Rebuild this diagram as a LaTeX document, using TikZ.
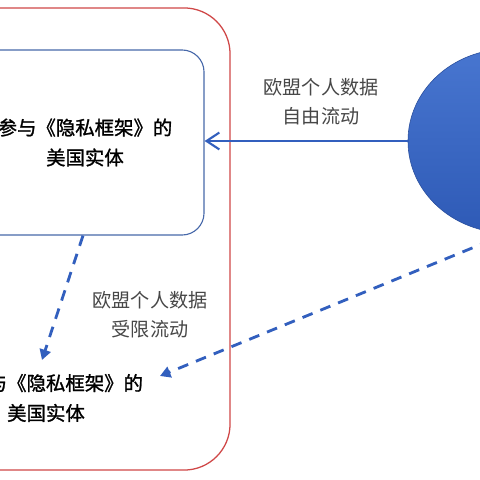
\documentclass[tikz,border=0pt]{standalone}
\usepackage{fontspec}
\setmainfont{Noto Sans CJK SC}
\newfontfamily\boxfont{Noto Sans CJK SC}[FakeBold=1.2]
\usepackage{tikz}
\usetikzlibrary{shapes,shapes.geometric,arrows,arrows.meta}
\usetikzlibrary{calc}
\definecolor{boxblue}{RGB}{72,105,170}
\definecolor{framered}{RGB}{208,72,72}
\definecolor{flowblue}{RGB}{50,95,190}
\definecolor{eutop}{RGB}{72,118,208}
\definecolor{eubot}{RGB}{46,90,182}
\tikzset{
    usbox/.style={draw=boxblue, line width=0.8pt, rounded corners=0.55cm, minimum width=5.95cm, minimum height=4.625cm, align=center, font=\boxfont\fontsize{13.8}{21.3}\selectfont},
    usframe/.style={draw=framered, line width=0.9pt, rounded corners=1.15cm, minimum width=9.5cm, minimum height=11.55cm},
    ustext/.style={align=center, font=\boxfont\fontsize{13.8}{21.3}\selectfont},
    flowlabel/.style={align=center, text=black!72, font=\fontsize{13.6}{20.6}\selectfont},
    solidflow/.style={draw=flowblue, line width=1.5pt, -{Straight Barb[length=3.2mm, width=4.2mm]}},
    dashflow/.style={draw=flowblue, line width=2pt, dash pattern=on 2.7mm off 2.1mm, -{Triangle[length=2.6mm, width=2.8mm]}}}
\begin{document}
\begin{tikzpicture}[x=0.025cm,y=-0.025cm]
\useasboundingbox (0,0) rectangle (480,480);
\fill[white] (0,0) rectangle (480,480);
\node[usframe] (frame) at (40,239) {};
\node[usbox] (us1) at (85,142.5) {参与《隐私框架》的\\美国实体};
\node[ustext] (us2) at (46,398) {未参与《隐私框架》的\\美国实体};
\node[ellipse, minimum width=5cm, minimum height=4.6cm, top color=eutop, bottom color=eubot, draw=eubot!85!black, line width=0.4pt] (eu) at (508,141) {};
\node[flowlabel] (l1) at (321,102) {欧盟个人数据\\自由流动};
\node[flowlabel] (l2) at (150,315) {欧盟个人数据\\受限流动};

\coordinate (t1) at (42,360);
\coordinate (t2) at (160,376);
\draw[solidflow] (eu.west) -- (eu.west -| us1.east);
\draw[dashflow] ([xshift=-0.05cm]us1.south) -- (t1);
\draw[dashflow] (eu.south) -- (t2);
\end{tikzpicture}
\end{document}
